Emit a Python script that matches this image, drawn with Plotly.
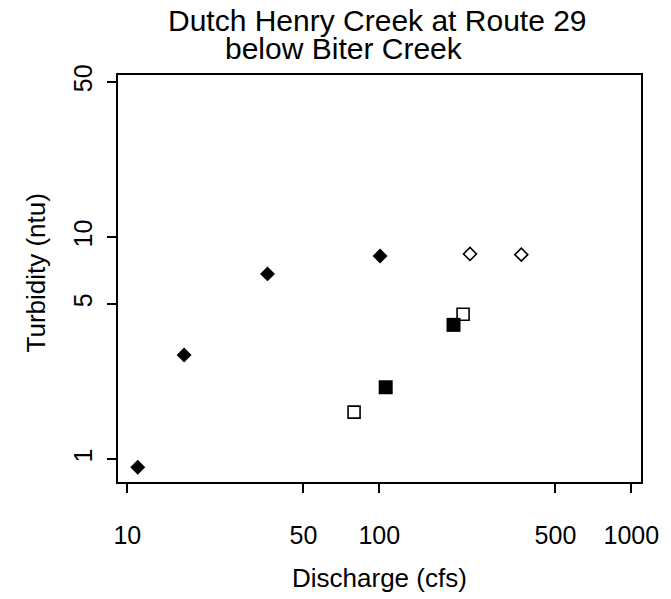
import plotly.graph_objects as go

# Turbidity vs discharge, grouped by marker style
fd_discharge = [11, 16.8, 36, 100.7]
fd_turbidity = [0.92, 2.95, 6.84, 8.24]

od_discharge = [229, 366]
od_turbidity = [8.41, 8.35]

fs_discharge = [106, 197]
fs_turbidity = [2.11, 4.03]

os_discharge = [79.4, 215]
os_turbidity = [1.63, 4.5]

x_ticks = [10, 50, 100, 500, 1000]
x_tick_labels = ["10", "50", "100", "500", "1000"]
y_ticks = [1, 5, 10, 50]
y_tick_labels = ["1", "5", "10", "50"]

FONT = "Liberation Sans, Arial, sans-serif"

fig = go.Figure()
fig.add_trace(go.Scatter(
    x=fd_discharge, y=fd_turbidity, mode="markers",
    marker=dict(symbol="diamond", size=11.5, color="black", line=dict(width=0)),
))
fig.add_trace(go.Scatter(
    x=od_discharge, y=od_turbidity, mode="markers",
    marker=dict(symbol="diamond-open", size=10, color="black", line=dict(width=1.6)),
))
fig.add_trace(go.Scatter(
    x=fs_discharge, y=fs_turbidity, mode="markers",
    marker=dict(symbol="square", size=14, color="black", line=dict(width=0)),
))
fig.add_trace(go.Scatter(
    x=os_discharge, y=os_turbidity, mode="markers",
    marker=dict(symbol="square-open", size=12, color="black", line=dict(width=1.6)),
))

fig.update_layout(
    width=671, height=599,
    margin=dict(l=118, r=24, t=75, b=117),
    paper_bgcolor="white", plot_bgcolor="white",
    showlegend=False,
    font=dict(family=FONT, size=25, color="black"),
    xaxis=dict(
        type="log", range=[0.963, 3.0385],
        tickvals=x_ticks, ticktext=x_tick_labels,
        ticks="outside", ticklen=9, tickwidth=1.5, tickcolor="black",
        ticklabelstandoff=21,
        showline=True, linecolor="black", linewidth=2, mirror=True,
        showgrid=False, zeroline=False,
    ),
    yaxis=dict(
        type="log", range=[-0.1025, 1.731],
        tickvals=y_ticks, ticktext=y_tick_labels, tickangle=-90,
        ticks="outside", ticklen=9, tickwidth=1.5, tickcolor="black",
        ticklabelstandoff=5,
        showline=True, linecolor="black", linewidth=2, mirror=True,
        showgrid=False, zeroline=False,
    ),
    annotations=[
        dict(text="Dutch Henry Creek at Route 29", xref="paper", yref="paper",
             x=0.497, y=1, yshift=55, xanchor="center", yanchor="middle",
             showarrow=False, font=dict(size=30)),
        dict(text="below Biter Creek", xref="paper", yref="paper",
             x=0.432, y=1, yshift=27, xanchor="center", yanchor="middle",
             showarrow=False, font=dict(size=30)),
        dict(text="Discharge (cfs)", xref="paper", yref="paper",
             x=0.5, y=0, yshift=-96, xanchor="center", yanchor="middle",
             showarrow=False, font=dict(size=26)),
        dict(text="Turbidity (ntu)", xref="paper", yref="paper",
             x=0, y=0.5, yshift=5, xshift=-83, xanchor="center", yanchor="middle",
             textangle=-90, showarrow=False, font=dict(size=26)),
    ],
)

fig.write_html("out.html")
